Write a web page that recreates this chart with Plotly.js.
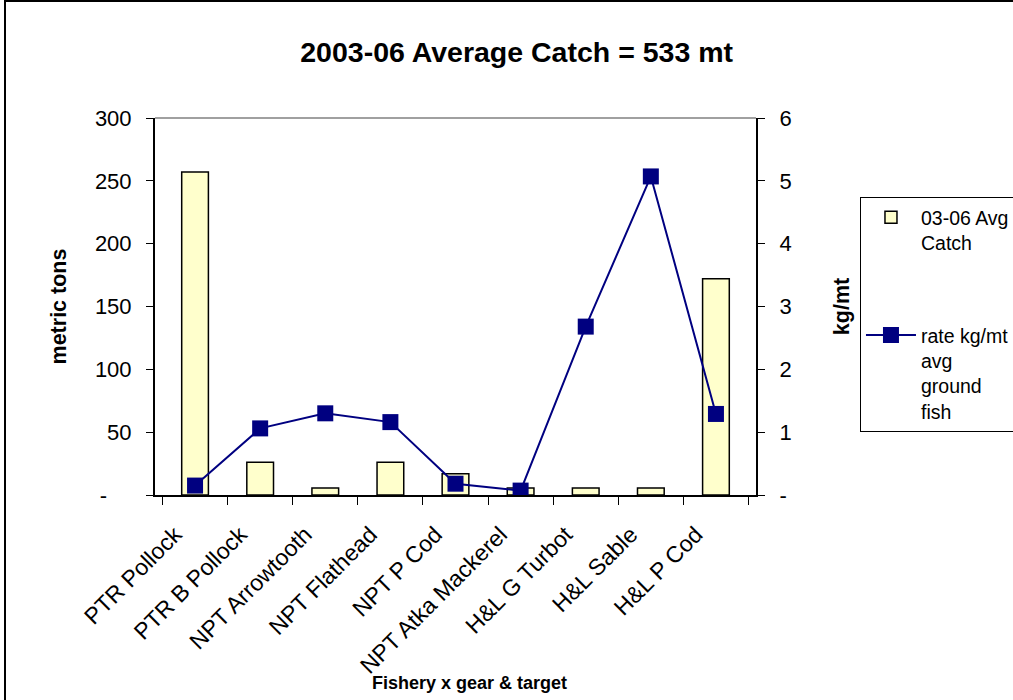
<!DOCTYPE html>
<html>
<head>
<meta charset="utf-8">
<script src="https://cdn.plot.ly/plotly-3.0.1.min.js"></script>
<style>
  body { margin: 0; background: #fff; }
  #wrap { position: relative; width: 1013px; height: 700px; overflow: hidden; }
  #plot { width: 1013px; height: 700px; }
  #frame { position: absolute; left: 4px; top: 0; width: 1013px; height: 700px;
           border-top: 2px solid #000; border-left: 2px solid #000; pointer-events: none; }
</style>
</head>
<body>
<div id="wrap">
  <div id="plot"></div>
  <div id="frame"></div>
</div>
<script>
const fisheries = ["PTR Pollock", "PTR B Pollock", "NPT Arrowtooth", "NPT Flathead", "NPT P Cod",
                   "NPT Atka Mackerel", "H&L G Turbot", "H&L Sable", "H&L P Cod"];
const avgCatch = [257, 26, 5.5, 26, 17, 5.5, 5.5, 5.5, 172];
const rateKgMt = [0.15, 1.06, 1.30, 1.16, 0.18, 0.07, 2.68, 5.07, 1.29];

const leftTickVals = [0, 50, 100, 150, 200, 250, 300];
const leftTickText = ["-\u00a0\u00a0\u00a0\u00a0", "50", "100", "150", "200", "250", "300"];
const rightTickVals = [0, 1, 2, 3, 4, 5, 6];
const rightTickText = ["-", "1", "2", "3", "4", "5", "6"];

const font = "Liberation Sans, Arial, sans-serif";

const data = [
    {
        type: "bar",
        x: fisheries,
        y: avgCatch,
        name: "03-06 Avg<br>Catch",
        legendgroup: "a",
        marker: { color: "#FFFFCC", line: { color: "#000", width: 1.5 } },
        yaxis: "y"
    },
    {
        type: "scatter",
        mode: "lines+markers",
        x: fisheries,
        y: rateKgMt,
        name: "rate kg/mt<br>avg<br>ground<br>fish",
        legendgroup: "b",
        line: { color: "#000080", width: 2 },
        marker: { color: "#000080", symbol: "square", size: 16 },
        yaxis: "y2"
    }
];

const layout = {
    width: 1013,
    height: 700,
    paper_bgcolor: "#fff",
    plot_bgcolor: "#fff",
    font: { family: font, color: "#000", size: 20 },
    margin: { l: 155, r: 257, t: 118, b: 205, autoexpand: false },
    bargap: 0.59,
    title: {
        text: "<b>2003-06 Average Catch = 533 mt</b>",
        font: { size: 28.5, family: font },
        x: 0.51, xref: "container", xanchor: "center",
        y: 0.926, yref: "container", yanchor: "middle"
    },
    xaxis: {
        type: "category",
        tickangle: -45,
        tickson: "boundaries",
        ticks: "outside",
        ticklen: 8,
        tickcolor: "#000",
        showline: true,
        linecolor: "#000",
        linewidth: 2,
        showgrid: false,
        tickfont: { size: 23 },
        ticklabelshift: -20,
        ticklabelstandoff: 15,
        automargin: false
    },
    yaxis: {
        range: [0, 300],
        tickvals: leftTickVals,
        ticktext: leftTickText,
        ticks: "outside",
        ticklen: 7,
        tickcolor: "#000",
        showline: true,
        linecolor: "#000",
        linewidth: 2,
        showgrid: false,
        zeroline: false,
        tickfont: { size: 22 },
        ticklabelstandoff: 10,
        title: { text: "<b>metric tons</b>", font: { size: 21.5 }, standoff: 22 },
        automargin: false
    },
    yaxis2: {
        overlaying: "y",
        side: "right",
        range: [0, 6],
        tickvals: rightTickVals,
        ticktext: rightTickText,
        ticks: "outside",
        ticklen: 7,
        tickcolor: "#000",
        showline: true,
        linecolor: "#000",
        linewidth: 2,
        showgrid: false,
        zeroline: false,
        tickfont: { size: 22 },
        ticklabelstandoff: 10,
        title: { text: "<b>kg/mt</b>", font: { size: 21.5 }, standoff: 43 },
        automargin: false
    },
    annotations: [
        { text: "<b>Fishery x gear & target</b>", xref: "paper", yref: "paper",
          x: 0.524, y: -0.499, xanchor: "center", yanchor: "middle",
          showarrow: false, font: { size: 18 } }
    ],
    shapes: [
        { type: "line", xref: "paper", yref: "paper", x0: 0, x1: 1, y0: 1, y1: 1,
          line: { color: "#808080", width: 1.5 } }
    ],
    legend: {
        x: 1.173, xanchor: "left",
        y: 0.79, yanchor: "top",
        bgcolor: "#fff",
        bordercolor: "#000",
        borderwidth: 1,
        font: { size: 19.5 },
        itemwidth: 50,
        traceorder: "grouped",
        tracegroupgap: 64,
        valign: "top"
    },
    showlegend: true
};

Plotly.newPlot("plot", data, layout, { staticPlot: true });
</script>
</body>
</html>
